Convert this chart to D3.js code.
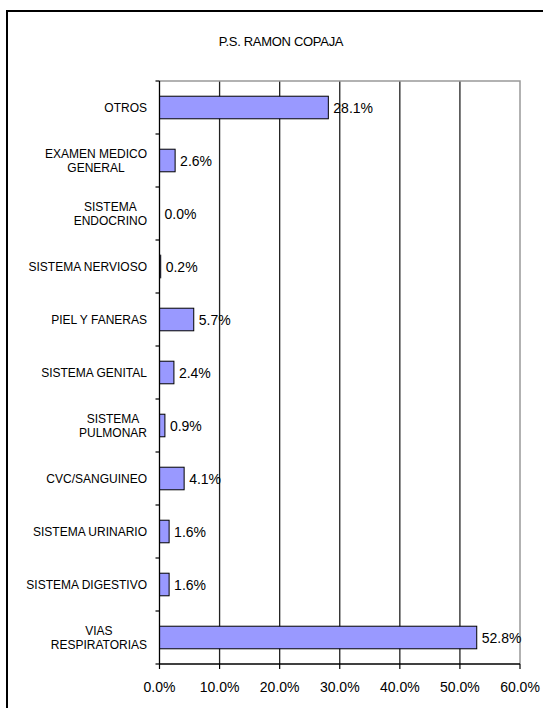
<!DOCTYPE html>
<html>
<head>
<meta charset="utf-8">
<script src="https://cdn.jsdelivr.net/npm/d3@7"></script>
<style>
  html, body { margin: 0; padding: 0; background: #fff; }
  svg { display: block; }
  text { font-family: "Liberation Sans", Arial, sans-serif; fill: #000; }
</style>
</head>
<body>
<svg id="chart" width="543" height="708"></svg>
<script>
// Chart title
const title = "P.S. RAMON COPAJA";

// Categories, top to bottom ("\n" marks a line break in the label)
const categories = [
  "OTROS",
  "EXAMEN MEDICO\nGENERAL",
  "SISTEMA\nENDOCRINO",
  "SISTEMA NERVIOSO",
  "PIEL Y FANERAS",
  "SISTEMA GENITAL",
  "SISTEMA\nPULMONAR",
  "CVC/SANGUINEO",
  "SISTEMA URINARIO",
  "SISTEMA DIGESTIVO",
  "VIAS\nRESPIRATORIAS"
];

// Share of consultations per category (%)
const values = [28.1, 2.6, 0.0, 0.2, 5.7, 2.4, 0.9, 4.1, 1.6, 1.6, 52.8];

// Value axis ticks (%)
const xTicks = [0, 10, 20, 30, 40, 50, 60];

const rows = categories.map((c, i) => ({ cat: c, value: values[i] }));
const fmt = d3.format(".1f");

const svg = d3.select("#chart");

// Outer chart frame (continues past the right and bottom edges)
svg.append("rect")
  .attr("x", 7).attr("y", 11)
  .attr("width", 700).attr("height", 900)
  .attr("fill", "none").attr("stroke", "#000").attr("stroke-width", 2);

// Title
svg.append("text")
  .attr("x", 281).attr("y", 46)
  .attr("text-anchor", "middle")
  .attr("font-size", 13)
  .attr("letter-spacing", -0.3)
  .text(title);

// Plot area
const plotLeft = 159.5, plotRight = 520, plotTop = 81, plotBottom = 664;

const x = d3.scaleLinear().domain([0, 60]).range([plotLeft, plotRight]);
const pad = 0.574;
const y = d3.scaleBand().domain(categories).range([plotTop, plotBottom])
  .paddingInner(pad).paddingOuter(pad / 2);

// Vertical gridlines
svg.append("g").selectAll("line")
  .data(xTicks.filter(t => t > 0 && t < 60))
  .join("line")
  .attr("x1", d => x(d)).attr("x2", d => x(d))
  .attr("y1", plotTop).attr("y2", plotBottom)
  .attr("stroke", "#222").attr("stroke-width", 1.3);

// Top and right edges of the plot area
svg.append("path")
  .attr("d", `M${plotLeft},${plotTop}H${plotRight}V${plotBottom}`)
  .attr("fill", "none").attr("stroke", "#999").attr("stroke-width", 1.5);

// Bars
svg.append("g").selectAll("rect")
  .data(rows)
  .join("rect")
  .attr("x", x(0))
  .attr("y", d => y(d.cat))
  .attr("width", d => x(d.value) - x(0))
  .attr("height", y.bandwidth())
  .attr("fill", "#9999FF")
  .attr("stroke", "#000").attr("stroke-width", 1);

// Value labels
svg.append("g").selectAll("text")
  .data(rows)
  .join("text")
  .attr("x", d => x(d.value) + 5)
  .attr("y", d => y(d.cat) + y.bandwidth() / 2 + 5)
  .attr("font-size", 14)
  .text(d => fmt(d.value) + "%");

// Category axis (left)
const yAxis = svg.append("g");
yAxis.append("line")
  .attr("x1", plotLeft).attr("x2", plotLeft)
  .attr("y1", plotTop).attr("y2", plotBottom)
  .attr("stroke", "#000").attr("stroke-width", 1.3);
yAxis.selectAll("line.tick")
  .data(d3.range(categories.length + 1))
  .join("line")
  .attr("class", "tick")
  .attr("x1", plotLeft - 4).attr("x2", plotLeft)
  .attr("y1", i => plotTop + i * y.step()).attr("y2", i => plotTop + i * y.step())
  .attr("stroke", "#000").attr("stroke-width", 1.2);

// Category labels: block right-aligned, lines centred within the block
const labelRight = 147;
const lineH = 14;
const labels = yAxis.selectAll("g.label")
  .data(rows)
  .join("g")
  .attr("class", "label");
labels.each(function(d) {
  const g = d3.select(this);
  const lines = d.cat.split("\n");
  const cy = y(d.cat) + y.bandwidth() / 2;
  const t = g.append("text")
    .attr("font-size", 12)
    .attr("text-anchor", "middle");
  lines.forEach((ln, k) => {
    t.append("tspan")
      .attr("y", cy + (k - (lines.length - 1) / 2) * lineH + 4.3)
      .text(ln);
  });
  let w = 0;
  t.selectAll("tspan").each(function() { w = Math.max(w, this.getComputedTextLength()); });
  t.selectAll("tspan").attr("x", labelRight - w / 2);
});

// Value axis (bottom)
const xAxis = svg.append("g");
xAxis.append("line")
  .attr("x1", plotLeft).attr("x2", plotRight)
  .attr("y1", plotBottom).attr("y2", plotBottom)
  .attr("stroke", "#000").attr("stroke-width", 1.3);
xAxis.selectAll("line.tick")
  .data(xTicks)
  .join("line")
  .attr("class", "tick")
  .attr("x1", d => x(d)).attr("x2", d => x(d))
  .attr("y1", plotBottom).attr("y2", plotBottom + 5)
  .attr("stroke", "#000").attr("stroke-width", 1.2);
xAxis.selectAll("text")
  .data(xTicks)
  .join("text")
  .attr("x", d => x(d))
  .attr("y", 691.5)
  .attr("text-anchor", "middle")
  .attr("font-size", 14)
  .text(d => fmt(d) + "%");
</script>
</body>
</html>
